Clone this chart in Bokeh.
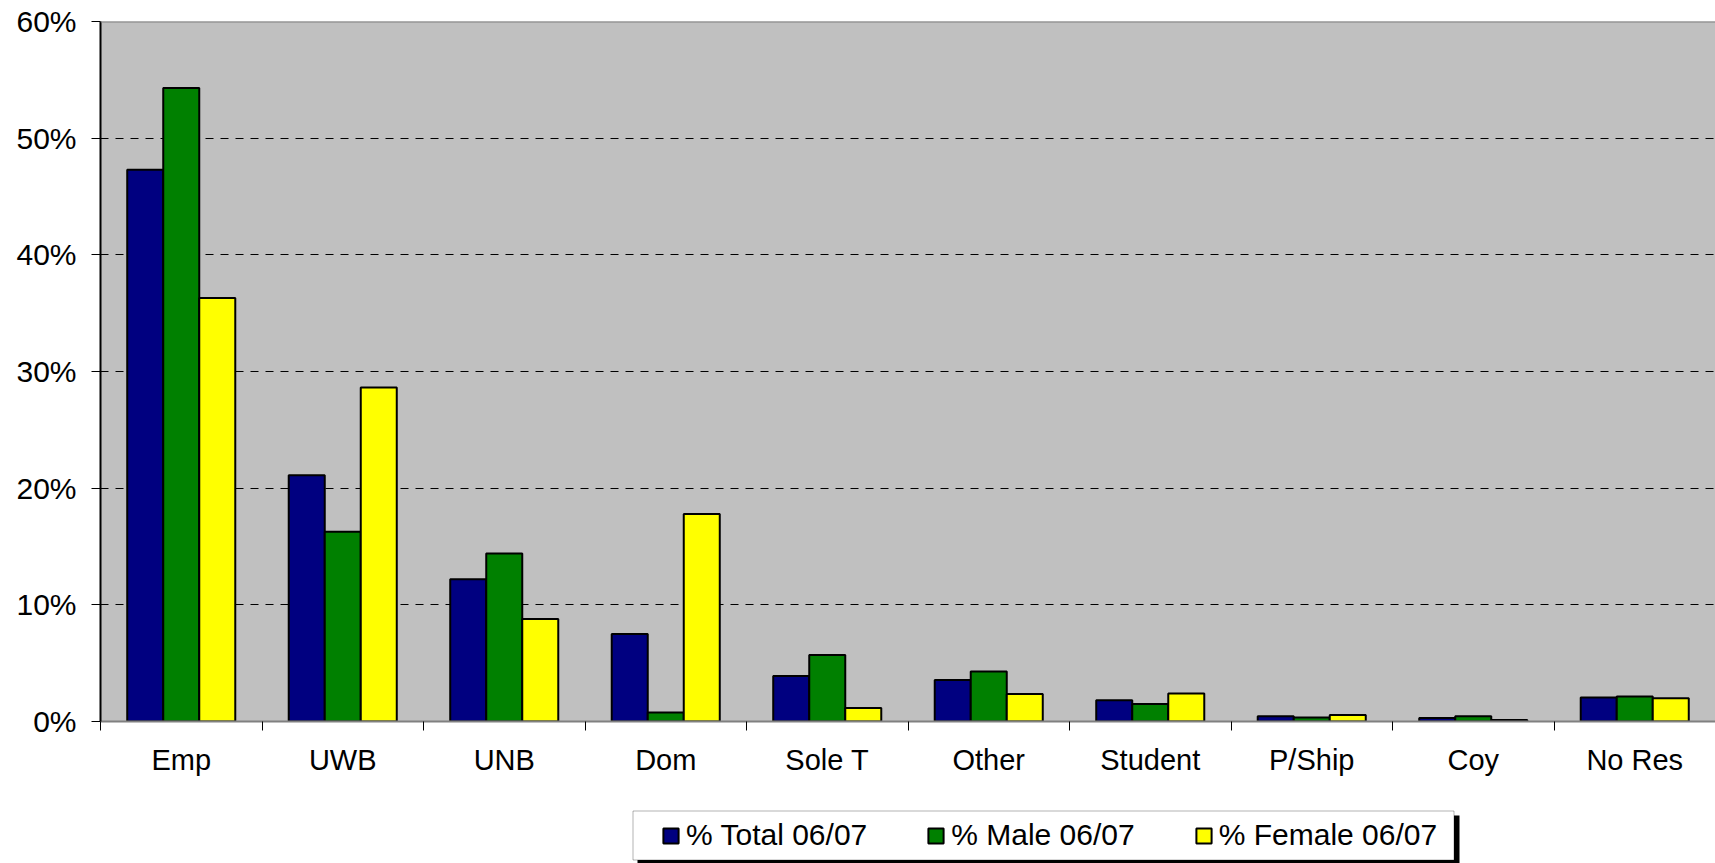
from bokeh.plotting import figure
from bokeh.models import (Range1d, FixedTicker, PrintfTickFormatter, Legend, LegendItem,
                          BoxAnnotation, Span, ColumnDataSource)
from bokeh.layouts import column
from bokeh.embed import file_html
from bokeh.resources import INLINE

categories = ["Emp", "UWB", "UNB", "Dom", "Sole T", "Other", "Student", "P/Ship", "Coy", "No Res"]
total_pct = [47.3, 21.1, 12.2, 7.5, 3.9, 3.55, 1.83, 0.46, 0.29, 2.06]
male_pct = [54.3, 16.26, 14.4, 0.77, 5.69, 4.29, 1.49, 0.34, 0.46, 2.14]
female_pct = [36.3, 28.63, 8.78, 17.78, 1.15, 2.35, 2.4, 0.55, 0.12, 2.0]
series_names = ["% Total 06/07", "% Male 06/07", "% Female 06/07"]
series_colors = ["#000080", "#008000", "#FFFF00"]
y_ticks = [0, 10, 20, 30, 40, 50, 60]

FONT = "Liberation Sans"
n = len(categories)
bar_w = 0.223

p = figure(width=1715, height=800, output_backend="svg", toolbar_location=None,
           x_range=Range1d(0, n), y_range=Range1d(0, 60),
           min_border_left=100, min_border_right=0, min_border_top=21, min_border_bottom=79)
p.background_fill_color = "#C0C0C0"
p.border_fill_color = "white"
p.outline_line_color = None

centers = [i + 0.5 for i in range(n)]
for k, (vals, col) in enumerate(zip([total_pct, male_pct, female_pct], series_colors)):
    src = ColumnDataSource(dict(x=[c + (k - 1) * bar_w for c in centers], top=vals))
    p.vbar(x="x", top="top", bottom=0, width=bar_w, source=src, fill_color=col,
           line_color="black", line_width=2)

# top border of plot area
p.add_layout(Span(location=60, dimension="width", line_color="#808080", line_width=2))

# grid
p.xgrid.visible = False
p.ygrid.ticker = FixedTicker(ticks=[10, 20, 30, 40, 50])
p.ygrid.grid_line_color = "black"
p.ygrid.grid_line_dash = "8 7"
p.ygrid.grid_line_width = 1

# y axis
p.yaxis.ticker = FixedTicker(ticks=y_ticks, minor_ticks=[])
p.yaxis.formatter = PrintfTickFormatter(format="%d%%")
p.yaxis.axis_line_color = "black"
p.yaxis.axis_line_width = 2
p.yaxis.major_tick_line_color = "black"
p.yaxis.major_tick_in = 0
p.yaxis.major_tick_out = 9
p.yaxis.minor_tick_line_color = None
p.yaxis.major_label_text_font = FONT
p.yaxis.major_label_text_font_size = "30px"
p.yaxis.major_label_text_color = "black"
p.yaxis.major_label_standoff = 15

# x axis
p.xaxis.ticker = FixedTicker(ticks=centers, minor_ticks=list(range(n + 1)))
p.xaxis.major_label_overrides = {c: lab for c, lab in zip(centers, categories)}
p.xaxis.axis_line_color = "#808080"
p.xaxis.axis_line_width = 2
p.xaxis.major_tick_line_color = None
p.xaxis.major_tick_in = 0
p.xaxis.major_tick_out = 0
p.xaxis.minor_tick_line_color = "black"
p.xaxis.minor_tick_in = 0
p.xaxis.minor_tick_out = 9
p.xaxis.major_label_text_font = FONT
p.xaxis.major_label_text_font_size = "29px"
p.xaxis.major_label_text_color = "black"
p.xaxis.major_label_standoff = 13

# legend strip below the chart (its ranges are page pixel positions)
lg = figure(width=1715, height=63, output_backend="svg", toolbar_location=None,
            x_axis_type=None, y_axis_type=None,
            x_range=Range1d(100, 1715), y_range=Range1d(863, 806),
            min_border_left=100, min_border_right=0, min_border_top=6, min_border_bottom=0)
lg.grid.visible = False
lg.outline_line_color = None
lg.background_fill_color = "white"
lg.border_fill_color = "white"
lg.add_layout(BoxAnnotation(left=637, right=1459, top=815, bottom=866,
                            fill_color="black", fill_alpha=1, line_color=None))
lg.add_layout(BoxAnnotation(left=632.5, right=1453.5, top=810.5, bottom=859.5,
                            fill_color="white", fill_alpha=1, line_color="black", line_width=1))

# legend swatch renderers (tiny, hidden beneath the legend box)
dummy = []
for col in series_colors:
    dummy.append(lg.vbar(x=[1000], top=[835], bottom=[834], width=1,
                         fill_color=col, line_color="black", line_width=2))

legend = Legend(items=[LegendItem(label=nm, renderers=[r]) for nm, r in zip(series_names, dummy)],
                orientation="horizontal", location=(561, 11),
                background_fill_alpha=0, border_line_color=None,
                padding=0, margin=0, spacing=59, label_standoff=6,
                glyph_width=19, glyph_height=19,
                label_text_font=FONT, label_text_font_size="30px", label_text_color="black")
lg.add_layout(legend, "center")

layout = column(p, lg, spacing=0)
open("out.html", "w").write(file_html(layout, INLINE))
